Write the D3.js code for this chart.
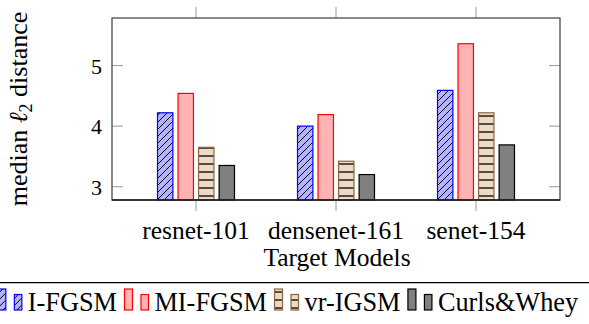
<!DOCTYPE html>
<html>
<head>
<meta charset="utf-8">
<script src="https://cdn.jsdelivr.net/npm/d3@7"></script>
<style>
  body { margin: 0; background: #fff; }
  svg { display: block; font-family: "Liberation Serif", "Times New Roman", serif; }
</style>
</head>
<body>
<svg id="chart" width="589" height="324"></svg>
<script>
const models = ["resnet-101", "densenet-161", "senet-154"];
const methods = ["I-FGSM", "MI-FGSM", "vr-IGSM", "Curls&Whey"];
const iFgsm = [4.22, 4.0, 4.59];
const miFgsm = [4.54, 4.19, 5.36];
const vrIgsm = [3.65, 3.42, 4.22];
const curls = [3.35, 3.2, 3.69];
const yTicks = [3, 4, 5];

const seriesValues = [iFgsm, miFgsm, vrIgsm, curls];

const chart = d3.select("#chart");

const x0 = 112, x1 = 560, yTop = 18, yBot = 200;

const xScale = d3.scalePoint().domain(models).range([x0, x1]).padding(0.6);
const inner = d3.scaleBand().domain(methods).range([-38.5, 38.5]).paddingInner(0.25);
const yScale = d3.scaleLinear().domain([2.78, 5.785]).range([yBot, yTop]);

// patterns
const defs = chart.append("defs");
const hatch = defs.append("pattern")
  .attr("id", "hatch")
  .attr("patternUnits", "userSpaceOnUse")
  .attr("width", 7).attr("height", 7);
hatch.append("rect").attr("width", 7).attr("height", 7).attr("fill", "#b3b3ff");
hatch.append("path")
  .attr("d", "M0,7 L7,0 M-1,1 L1,-1 M6,8 L8,6")
  .attr("stroke", "#000").attr("stroke-width", 1);

const hlines = defs.append("pattern")
  .attr("id", "hlines")
  .attr("patternUnits", "userSpaceOnUse")
  .attr("width", 8).attr("height", 8);
hlines.append("rect").attr("width", 8).attr("height", 8).attr("fill", "#ecd9c6");
hlines.append("path")
  .attr("d", "M0,4 L8,4")
  .attr("stroke", "#000").attr("stroke-width", 1.3);

const styles = [
  { fill: "url(#hatch)", stroke: "#0000ff" },
  { fill: "#ffb3b3", stroke: "#ff0000" },
  { fill: "url(#hlines)", stroke: "#8c6640" },
  { fill: "#808080", stroke: "#000000" },
];

// bars
seriesValues.forEach((vals, si) => {
  chart.append("g")
    .selectAll("rect")
    .data(models.map((m, i) => ({ model: m, value: vals[i] })))
    .enter()
    .append("rect")
    .attr("x", (d) => xScale(d.model) + inner(methods[si]))
    .attr("y", (d) => yScale(d.value))
    .attr("width", inner.bandwidth())
    .attr("height", (d) => yBot - yScale(d.value))
    .attr("fill", styles[si].fill)
    .attr("stroke", styles[si].stroke)
    .attr("stroke-width", 1.2);
});

// ticks
const tickColor = "#9a9a9a";
chart.append("g").selectAll("line.xt")
  .data(models).enter().append("line")
  .attr("x1", (d) => xScale(d)).attr("x2", (d) => xScale(d))
  .attr("y1", yTop - 11).attr("y2", yTop)
  .attr("stroke", tickColor).attr("stroke-width", 1);
chart.append("g").selectAll("line.xb")
  .data(models).enter().append("line")
  .attr("x1", (d) => xScale(d)).attr("x2", (d) => xScale(d))
  .attr("y1", yBot).attr("y2", yBot + 11)
  .attr("stroke", tickColor).attr("stroke-width", 1);
chart.append("g").selectAll("line.yl")
  .data(yTicks).enter().append("line")
  .attr("x1", x0).attr("x2", x0 + 11)
  .attr("y1", (d) => yScale(d)).attr("y2", (d) => yScale(d))
  .attr("stroke", tickColor).attr("stroke-width", 1);
chart.append("g").selectAll("line.yr")
  .data(yTicks).enter().append("line")
  .attr("x1", x1 - 11).attr("x2", x1)
  .attr("y1", (d) => yScale(d)).attr("y2", (d) => yScale(d))
  .attr("stroke", tickColor).attr("stroke-width", 1);

// axis box
chart.append("rect")
  .attr("x", x0).attr("y", yTop)
  .attr("width", x1 - x0).attr("height", yBot - yTop)
  .attr("fill", "none")
  .attr("stroke", "#4a4a4a")
  .attr("stroke-width", 1.3);
chart.append("line")
  .attr("x1", x0).attr("x2", x1).attr("y1", yBot).attr("y2", yBot)
  .attr("stroke", "#1a1a1a").attr("stroke-width", 1.3);

// tick labels
chart.append("g").selectAll("text")
  .data(yTicks).enter().append("text")
  .attr("x", 102)
  .attr("y", (d) => yScale(d) + 8)
  .attr("text-anchor", "end")
  .style("font-size", "22px")
  .text((d) => d);

chart.append("g").selectAll("text")
  .data(models).enter().append("text")
  .attr("x", (d) => xScale(d))
  .attr("y", 239)
  .attr("text-anchor", "middle")
  .style("font-size", "25.5px")
  .text((d) => d);

chart.append("text")
  .attr("x", 337)
  .attr("y", 266)
  .attr("text-anchor", "middle")
  .style("font-size", "25.5px")
  .text("Target Models");

const ylab = chart.append("text")
  .attr("transform", `translate(27, ${(yTop + yBot) / 2}) rotate(-90)`)
  .attr("text-anchor", "middle")
  .style("font-size", "26px");
ylab.append("tspan").text("median ");
ylab.append("tspan").style("font-style", "italic").text("ℓ");
ylab.append("tspan").attr("dy", 5).style("font-size", "18px").text("2");
ylab.append("tspan").attr("dy", -5).text(" distance");

// legend
chart.append("line")
  .attr("x1", 0).attr("x2", 589)
  .attr("y1", 282.7).attr("y2", 282.7)
  .attr("stroke", "#000").attr("stroke-width", 1.2);

const legend = chart.append("g");
let lx = 0;
methods.forEach((m, i) => {
  const item = legend.append("g").attr("transform", `translate(${lx},0)`);
  item.append("rect")
    .attr("x", 0).attr("y", 289).attr("width", 8).attr("height", 21)
    .attr("fill", styles[i].fill).attr("stroke", styles[i].stroke).attr("stroke-width", 1.2);
  item.append("rect")
    .attr("x", 16.5).attr("y", 294.5).attr("width", 7.5).attr("height", 15.5)
    .attr("fill", styles[i].fill).attr("stroke", styles[i].stroke).attr("stroke-width", 1.2);
  const t = item.append("text")
    .attr("x", 30).attr("y", 311)
    .style("font-size", "26.3px")
    .text(m);
  lx += 30 + t.node().getComputedTextLength() + 7.5;
});
const legendWidth = lx - 7.5;
legend.attr("transform", `translate(${288 - legendWidth / 2},0)`);
</script>
</body>
</html>
